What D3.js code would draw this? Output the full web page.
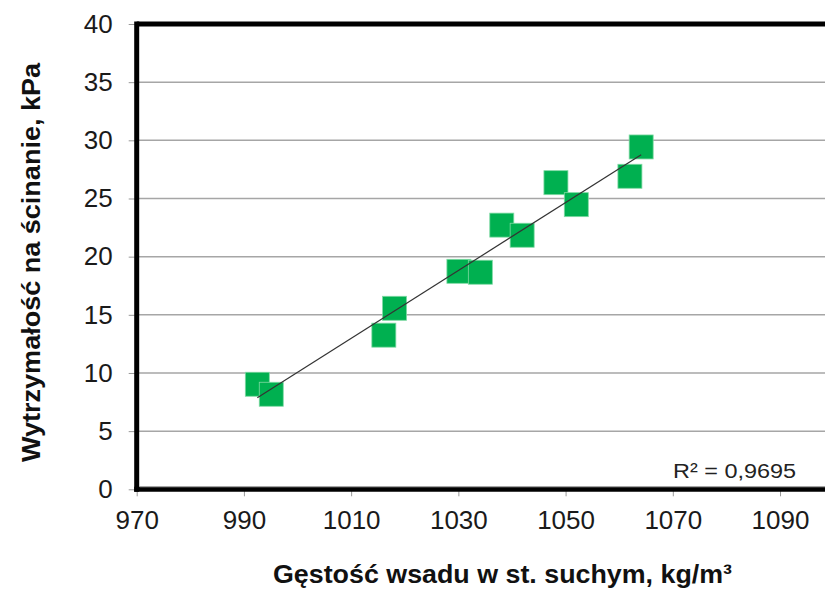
<!DOCTYPE html>
<html>
<head>
<meta charset="utf-8">
<script src="https://cdn.jsdelivr.net/npm/d3@7"></script>
<style>
  html, body { margin: 0; padding: 0; background: #fff; overflow: hidden; }
  svg { display: block; }
  text { font-family: "Liberation Sans", Arial, sans-serif; }
</style>
</head>
<body>
<svg id="chart" width="825" height="589"></svg>
<script>
// Dry bulk density (kg/m3) and shear strength (kPa)
const density = [992.5, 995.1, 1016.1, 1018.1, 1030.1, 1034.1, 1038.1, 1041.9, 1048.2, 1052.0, 1062.0, 1064.1];
const strength = [9.03, 8.17, 13.25, 15.56, 18.74, 18.66, 22.71, 21.84, 26.36, 24.47, 26.91, 29.43];
const xTicks = [970, 990, 1010, 1030, 1050, 1070, 1090];
const yTicks = [0, 5, 10, 15, 20, 25, 30, 35, 40];
const r2Label = "R² = 0,9695";
const xTitle = "Gęstość wsadu w st. suchym, kg/m³";
const yTitle = "Wytrzymałość na ścinanie, kPa";

const svg = d3.select("#chart");
const plotLeft = 136.7, plotTop = 24, plotBottom = 489.3;
const x = d3.scaleLinear().domain([970, 1100]).range([plotLeft, plotLeft + 130 * 5.361]);
const y = d3.scaleLinear().domain([0, 40]).range([plotBottom, plotTop]);

// horizontal gridlines
svg.append("g").selectAll("line").data(yTicks.filter(d => d > 0 && d < 40)).join("line")
  .attr("x1", plotLeft).attr("x2", x(1100))
  .attr("y1", d => y(d)).attr("y2", d => y(d))
  .attr("stroke", "#a6a6a6").attr("stroke-width", 1.5);

// y axis
const yAxis = svg.append("g").attr("transform", `translate(${plotLeft},0)`)
  .call(d3.axisLeft(y).tickValues(yTicks).tickSize(8).tickPadding(16));
yAxis.select(".domain").remove();
yAxis.selectAll(".tick line").attr("stroke", "#999");
yAxis.selectAll(".tick text").attr("font-size", 26).attr("fill", "#1a1a1a")
  .attr("font-family", "Liberation Sans, Arial, sans-serif");

// x axis
const xAxis = svg.append("g").attr("transform", `translate(0,${plotBottom})`)
  .call(d3.axisBottom(x).tickValues(xTicks).tickSize(7).tickPadding(14).tickFormat(d3.format("d")));
xAxis.select(".domain").remove();
xAxis.selectAll(".tick line").attr("stroke", "#999");
xAxis.selectAll(".tick text").attr("font-size", 26).attr("fill", "#1a1a1a")
  .attr("font-family", "Liberation Sans, Arial, sans-serif");

// plot frame: heavy top and left edges, doubled bottom axis
svg.append("line").attr("x1", plotLeft).attr("x2", x(1100)).attr("y1", plotTop).attr("y2", plotTop)
  .attr("stroke", "#000").attr("stroke-width", 5);
svg.append("line").attr("x1", plotLeft).attr("x2", plotLeft).attr("y1", plotTop - 2.5).attr("y2", plotBottom + 2.5)
  .attr("stroke", "#000").attr("stroke-width", 5);
svg.append("line").attr("x1", plotLeft - 2.5).attr("x2", x(1100)).attr("y1", plotBottom).attr("y2", plotBottom)
  .attr("stroke", "#000").attr("stroke-width", 5);
svg.append("line").attr("x1", plotLeft + 3).attr("x2", x(1100)).attr("y1", plotBottom - 2.5).attr("y2", plotBottom - 2.5)
  .attr("stroke", "#9a9a9a").attr("stroke-width", 1);

// markers
const pts = density.map((d, i) => ({ x: d, y: strength[i] }));
const s = 24;
svg.append("g").selectAll("rect").data(pts).join("rect")
  .attr("x", d => x(d.x) - s / 2).attr("y", d => y(d.y) - s / 2)
  .attr("width", s).attr("height", s)
  .attr("fill", "#00b050").attr("stroke", "#7fd9a3").attr("stroke-width", 0.8);

// least-squares trend line
const mx = d3.mean(density), my = d3.mean(strength);
const slope = d3.sum(pts, p => (p.x - mx) * (p.y - my)) / d3.sum(pts, p => (p.x - mx) ** 2);
const icpt = my - slope * mx;
const xr = d3.extent(density);
svg.append("line")
  .attr("x1", x(xr[0])).attr("y1", y(icpt + slope * xr[0]))
  .attr("x2", x(xr[1])).attr("y2", y(icpt + slope * xr[1]))
  .attr("stroke", "#333").attr("stroke-width", 1.2);

// R² annotation
svg.append("text").attr("x", 673).attr("y", 478)
  .attr("font-family", "Open Sans, Carlito, sans-serif").attr("font-size", 20).attr("fill", "#222")
  .attr("textLength", 123).attr("lengthAdjust", "spacingAndGlyphs")
  .text(r2Label);

// axis titles
svg.append("text").attr("x", 502.5).attr("y", 583).attr("text-anchor", "middle")
  .attr("font-size", 25).attr("font-weight", "bold").attr("fill", "#111")
  .attr("textLength", 459).attr("lengthAdjust", "spacingAndGlyphs")
  .text(xTitle);
svg.append("text").attr("transform", "translate(40,262.5) rotate(-90)").attr("text-anchor", "middle")
  .attr("font-size", 25).attr("font-weight", "bold").attr("fill", "#111")
  .attr("textLength", 399).attr("lengthAdjust", "spacingAndGlyphs")
  .text(yTitle);
</script>
</body>
</html>
